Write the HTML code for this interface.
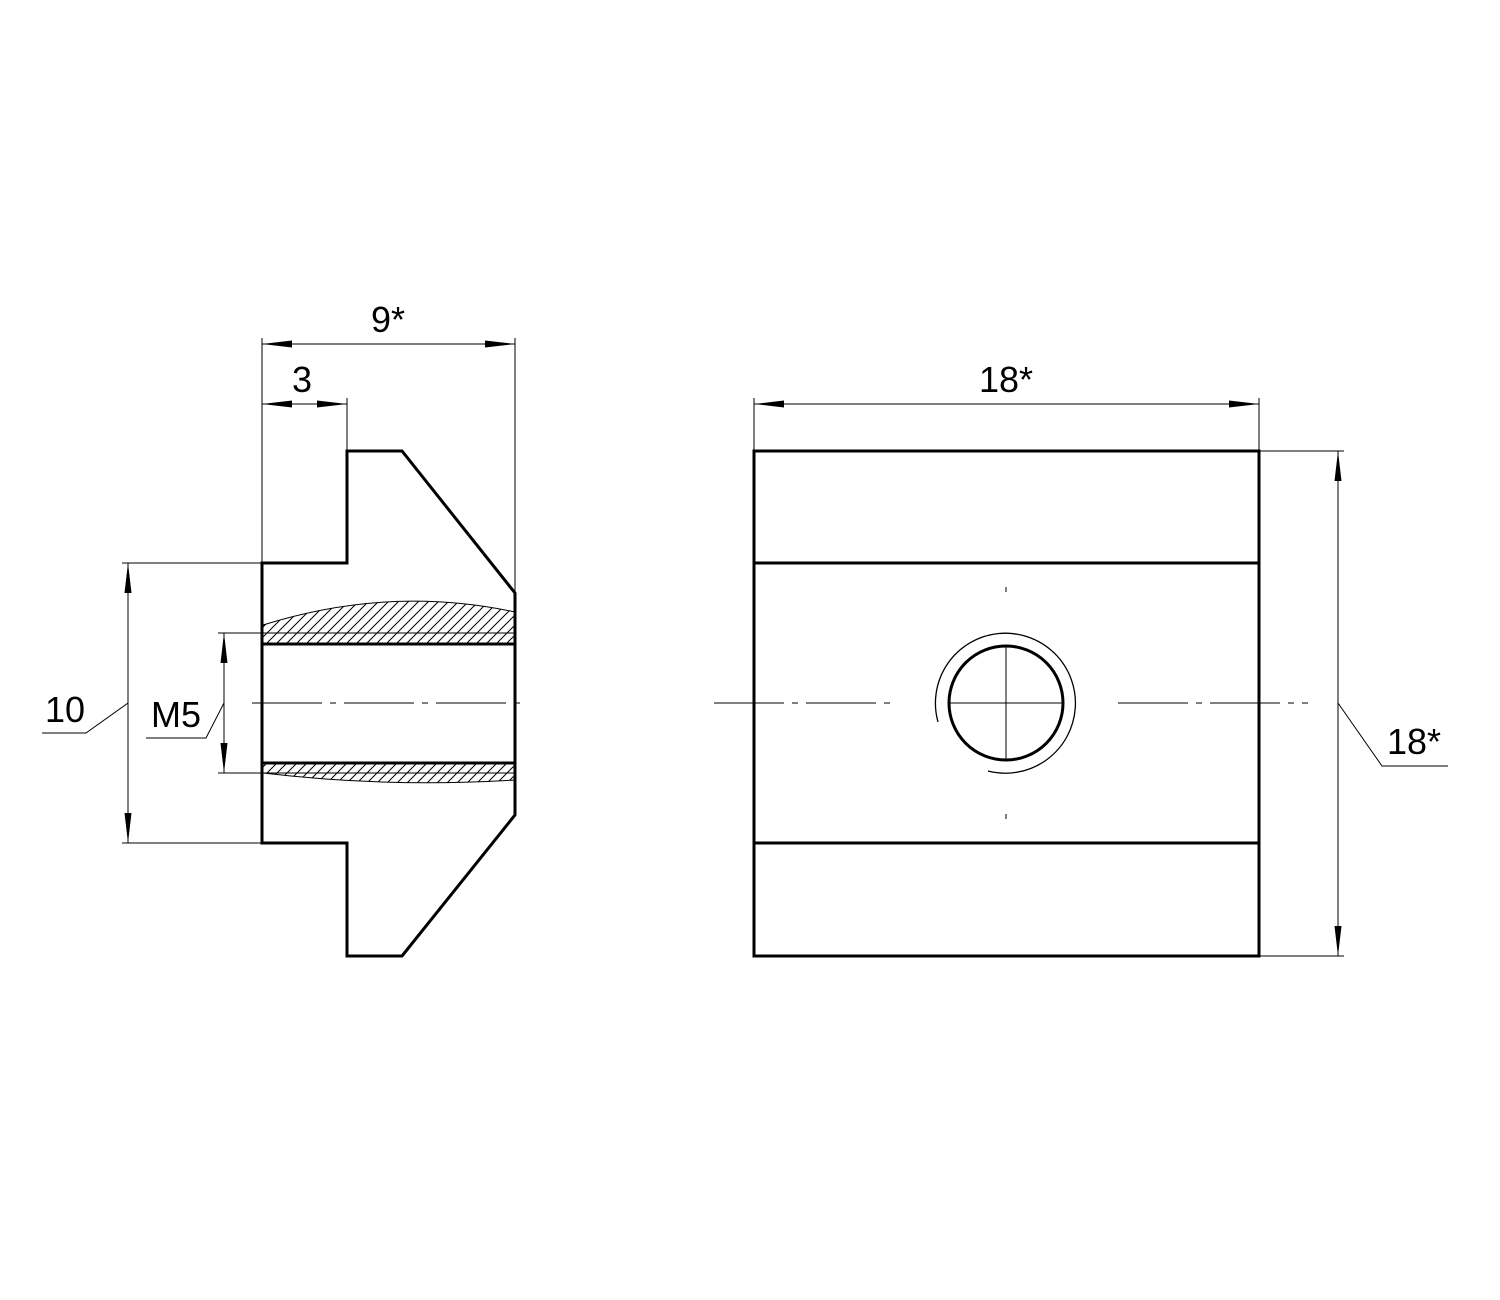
<!DOCTYPE html>
<html><head><style>body{margin:0;background:#fff}svg{display:block}text{font-family:"Liberation Sans",sans-serif;font-size:36px;fill:#000}</style></head><body>
<svg width="1500" height="1300" viewBox="0 0 1500 1300" xmlns="http://www.w3.org/2000/svg">
<defs>
<pattern id="h" patternUnits="userSpaceOnUse" width="10" height="10"><path d="M-2,12 L12,-2 M-2,2 L2,-2 M8,12 L12,8" stroke="#000" stroke-width="1"/></pattern>
<marker id="a" viewBox="0 0 30 10" refX="30" refY="5" markerWidth="30" markerHeight="10" markerUnits="userSpaceOnUse" orient="auto-start-reverse"><path d="M0,1.5 L30,5 L0,8.5 Z" fill="#000"/></marker>
</defs>
<g fill="none" stroke="#000">
<path d="M263,625 Q390,585 515,612 L515,644 L263,644 Z" fill="url(#h)" stroke="none"/>
<path d="M263,625 Q390,585 515,612" stroke-width="1"/>
<path d="M263,763 L515,763 L515,780 Q390,788 263,773 Z" fill="url(#h)" stroke="none"/>
<path d="M263,773 Q390,788 515,780" stroke-width="1"/>
<line x1="218" y1="633" x2="515" y2="633" stroke-width="1"/>
<line x1="218" y1="773" x2="515" y2="773" stroke-width="1"/>
<path d="M262,563 L347,563 L347,451 L402,451 L515,593 L515,815 L402,956 L347,956 L347,843 L262,843 Z" stroke-width="3"/>
<line x1="262" y1="644" x2="515" y2="644" stroke-width="3"/>
<line x1="262" y1="763" x2="515" y2="763" stroke-width="3"/>
<line x1="252" y1="703" x2="525" y2="703" stroke-width="1" stroke-dasharray="70,8,6,8"/>
<rect x="754" y="451" width="505" height="505" stroke-width="3"/>
<line x1="754" y1="563" x2="1259" y2="563" stroke-width="3"/>
<line x1="754" y1="843" x2="1259" y2="843" stroke-width="3"/>
<circle cx="1006" cy="703" r="57" stroke-width="3"/>
<path d="M938,722 A70,70 0 1 1 988,771" stroke-width="1.3"/>
<line x1="949" y1="703" x2="1063" y2="703" stroke-width="1"/>
<line x1="1006" y1="646" x2="1006" y2="760" stroke-width="1"/>
<line x1="714" y1="703" x2="894" y2="703" stroke-width="1" stroke-dasharray="70,8,6,8"/>
<line x1="1118" y1="703" x2="1308" y2="703" stroke-width="1" stroke-dasharray="70,8,6,8"/>
<line x1="1006" y1="587" x2="1006" y2="592" stroke-width="1"/>
<line x1="1006" y1="814" x2="1006" y2="819" stroke-width="1"/>
<g stroke-width="1">
<line x1="262" y1="338" x2="262" y2="563"/>
<line x1="515" y1="338" x2="515" y2="593"/>
<line x1="262" y1="344" x2="515" y2="344" marker-start="url(#a)" marker-end="url(#a)"/>
<line x1="347" y1="398" x2="347" y2="451"/>
<line x1="262" y1="404" x2="347" y2="404" marker-start="url(#a)" marker-end="url(#a)"/>
<line x1="122" y1="563" x2="262" y2="563"/>
<line x1="122" y1="843" x2="262" y2="843"/>
<line x1="128" y1="563" x2="128" y2="843" marker-start="url(#a)" marker-end="url(#a)"/>
<path d="M128,703 L86,733 L42,733"/>
<line x1="224" y1="633" x2="224" y2="773" marker-start="url(#a)" marker-end="url(#a)"/>
<path d="M224,703 L206,738 L146,738"/>
<line x1="754" y1="398" x2="754" y2="451"/>
<line x1="1259" y1="398" x2="1259" y2="451"/>
<line x1="754" y1="404" x2="1259" y2="404" marker-start="url(#a)" marker-end="url(#a)"/>
<line x1="1259" y1="451" x2="1344" y2="451"/>
<line x1="1259" y1="956" x2="1344" y2="956"/>
<line x1="1338" y1="451" x2="1338" y2="956" marker-start="url(#a)" marker-end="url(#a)"/>
<path d="M1338,703 L1382,766 L1448,766"/>
</g>
</g>
<text x="388" y="332" text-anchor="middle">9*</text>
<text x="302" y="392" text-anchor="middle">3</text>
<text x="65" y="722" text-anchor="middle">10</text>
<text x="176" y="727" text-anchor="middle">M5</text>
<text x="1006" y="392" text-anchor="middle">18*</text>
<text x="1414" y="754" text-anchor="middle">18*</text>
</svg>
</body></html>
